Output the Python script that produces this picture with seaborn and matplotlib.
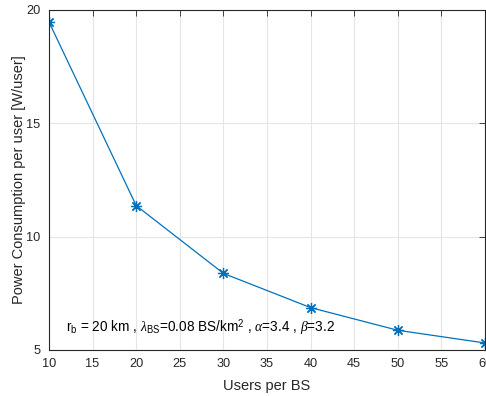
import matplotlib
matplotlib.use("Agg")
import matplotlib.pyplot as plt
import seaborn as sns
import pandas as pd

users_per_bs = [10, 20, 30, 40, 50, 60]
power_per_user = [19.47, 11.37, 8.38, 6.87, 5.87, 5.31]
x_ticks = [10, 15, 20, 25, 30, 35, 40, 45, 50, 55, 60]
y_ticks = [5, 10, 15, 20]

sns.set_style("whitegrid")
plt.rcParams["font.family"] = ["Liberation Sans", "DejaVu Sans"]
plt.rcParams["mathtext.fontset"] = "custom"
plt.rcParams["mathtext.rm"] = "Liberation Sans"
plt.rcParams["mathtext.it"] = "Liberation Serif:italic"

df = pd.DataFrame({"users": users_per_bs, "power": power_per_user})

fig = plt.figure(figsize=(4.86, 3.96), dpi=100)
ax = fig.add_axes([49 / 486, 46 / 396, 436 / 486, 340 / 396])

# asterisk marker: four crossing strokes
sns.lineplot(data=df, x="users", y="power", ax=ax, color="#0072BD",
             linewidth=0.9, marker=(8, 2, 0), markersize=8,
             markeredgecolor="#0072BD", markerfacecolor="#0072BD",
             markeredgewidth=0.9)

ax.set_xlim(10, 60)
ax.set_ylim(5, 20)
ax.set_xticks(x_ticks)
ax.set_yticks(y_ticks)
ax.grid(True, color="#e5e5e5", linewidth=0.8)
ax.set_axisbelow(True)

for side in ["left", "bottom", "top", "right"]:
    ax.spines[side].set_visible(True)
    ax.spines[side].set_color("#262626")
    ax.spines[side].set_linewidth(0.8)

ax.tick_params(axis="both", direction="in", length=4, width=0.6,
               colors="#262626", labelsize=9.2, top=True, right=True,
               labelcolor="#262626")
ax.tick_params(axis="x", pad=6)
ax.tick_params(axis="y", pad=6)

ax.set_xlabel("Users per BS", fontsize=10.5, color="#262626", labelpad=6)
ax.set_ylabel("Power Consumption per user [W/user]", fontsize=10.5,
              color="#262626", labelpad=0)

ax.text(12, 5.97,
        r"r$_{\rm b}$ = 20 km , $\lambda_{\rm BS}$=0.08 BS/km$^{2}$ , $\alpha$=3.4 , $\beta$=3.2",
        fontsize=9.8, color="#000000", va="center", ha="left")

fig.savefig("out.png", dpi=100)
